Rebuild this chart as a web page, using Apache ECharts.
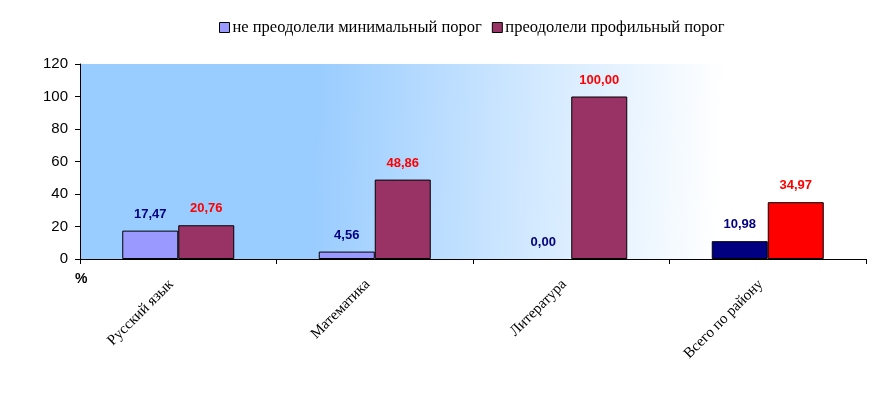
<!DOCTYPE html>
<html>
<head>
<meta charset="utf-8">
<script src="https://cdn.jsdelivr.net/npm/echarts@6/dist/echarts.min.js"></script>
<style>html,body{margin:0;padding:0;background:#fff}#c{width:885px;height:393px}</style>
</head>
<body>
<div id="c"></div>
<script>
const categories = ['Русский язык', 'Математика', 'Литература', 'Всего по району'];
const seriesNames = ['не преодолели минимальный порог', 'преодолели профильный порог'];
const notPassedMin = [17.47, 4.56, 0.00, 10.98];
const passedProfile = [20.76, 48.86, 100.00, 34.97];
const yTicks = [0, 20, 40, 60, 80, 100, 120];

const fmt = v => v.toFixed(2).replace('.', ',');
const c1 = ['#9999FF', '#9999FF', '#9999FF', '#000080'];
const c2 = ['#993366', '#993366', '#993366', '#FF0000'];

const chart = echarts.init(document.getElementById('c'));
chart.setOption({
  animation: false,
  backgroundColor: '#ffffff',
  legend: {
    top: 14,
    left: 214,
    icon: 'rect',
    itemWidth: 10,
    itemHeight: 10,
    itemGap: 10,
    textStyle: { fontFamily: 'Liberation Serif', fontSize: 16.5, color: '#000', padding: [0, 0, 0, -2] },
    data: seriesNames.map((n, i) => ({ name: n, itemStyle: { color: i ? '#993366' : '#9999FF', borderColor: '#000', borderWidth: 1 } }))
  },
  grid: {
    left: 80, right: 19, top: 64, bottom: 134,
    show: true, borderWidth: 0,
    backgroundColor: {
      type: 'linear', x: 0, y: 0, x2: 1, y2: 0.15,
      colorStops: [
        { offset: 0, color: '#99CCFF' },
        { offset: 0.3, color: '#99CCFF' },
        { offset: 0.6, color: '#D6EBFF' },
        { offset: 0.82, color: '#FFFFFF' },
        { offset: 1, color: '#FFFFFF' }
      ]
    }
  },
  xAxis: {
    type: 'category',
    data: categories,
    axisLine: { lineStyle: { color: '#000', width: 1 } },
    axisTick: { show: true, length: 5, lineStyle: { color: '#000' } },
    axisLabel: { rotate: 45, fontFamily: 'Liberation Serif', fontSize: 15, color: '#000', margin: 16, padding: [0, 10, 0, 0] }
  },
  yAxis: {
    type: 'value',
    min: yTicks[0], max: yTicks[yTicks.length - 1], interval: 20,
    splitLine: { show: false },
    axisLine: { show: true, lineStyle: { color: '#000', width: 1 } },
    axisTick: { show: true, length: 5, lineStyle: { color: '#000' } },
    axisLabel: { fontFamily: 'Liberation Sans', fontSize: 15, color: '#000', margin: 12 }
  },
  graphic: [{
    type: 'text', left: 75, top: 272,
    style: { text: '%', font: 'bold 14px "Liberation Sans"', fill: '#000' }
  }],
  series: [
    {
      name: seriesNames[0], type: 'bar', barWidth: 56, barGap: 0,
      data: notPassedMin.map((v, i) => ({ value: v, itemStyle: { color: c1[i], borderWidth: v === 0 ? 0 : 1 } })),
      itemStyle: { borderColor: '#000', borderWidth: 1 },
      label: { show: true, position: 'top', distance: 10, formatter: p => fmt(p.value), fontFamily: 'Liberation Sans', fontWeight: 'bold', fontSize: 13, color: '#000080' }
    },
    {
      name: seriesNames[1], type: 'bar', barWidth: 56, barGap: 0,
      data: passedProfile.map((v, i) => ({ value: v, itemStyle: { color: c2[i] } })),
      itemStyle: { borderColor: '#000', borderWidth: 1 },
      label: { show: true, position: 'top', distance: 10, formatter: p => fmt(p.value), fontFamily: 'Liberation Sans', fontWeight: 'bold', fontSize: 13, color: '#FF0000' }
    }
  ]
});
</script>
</body>
</html>
